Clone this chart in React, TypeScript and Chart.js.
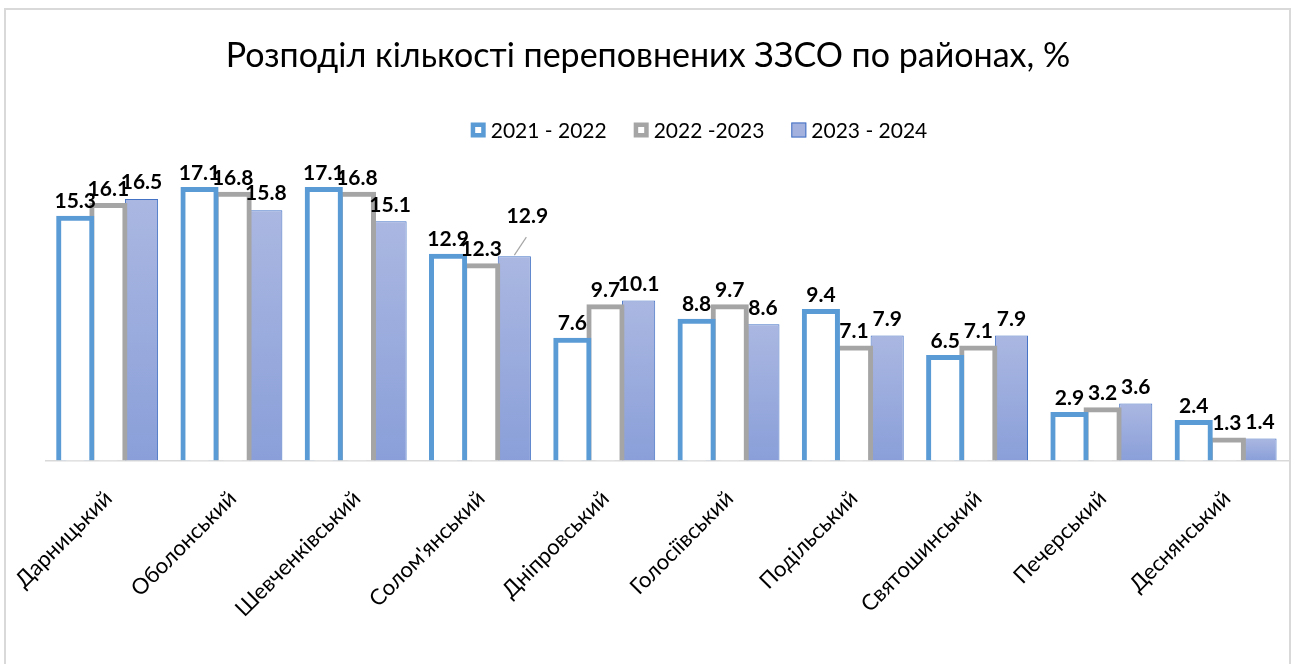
import React, { useEffect, useRef } from "react";
import { Chart, registerables } from "chart.js";
Chart.register(...registerables);

const districts = [
  "Дарницький",
  "Оболонський",
  "Шевченківський",
  "Солом'янський",
  "Дніпровський",
  "Голосіївський",
  "Подільський",
  "Святошинський",
  "Печерський",
  "Деснянський",
];
const seriesNames = ["2021 - 2022", "2022 -2023", "2023 - 2024"];
const values2122 = [15.3, 17.1, 17.1, 12.9, 7.6, 8.8, 9.4, 6.5, 2.9, 2.4];
const values2223 = [16.1, 16.8, 16.8, 12.3, 9.7, 9.7, 7.1, 7.1, 3.2, 1.3];
const values2324 = [16.5, 15.8, 15.1, 12.9, 10.1, 8.6, 7.9, 7.9, 3.6, 1.4];
const titleText = "Розподіл кількості переповнених ЗЗСО по районах, %";

const FONT = "Lato";
const BLUE = "#5B9BD5";
const GRAY = "#A5A5A5";
const FILL_BORDER = "#4472C4";
const GRAD_TOP = "#AAB7E1";
const GRAD_BOTTOM = "#8A9FD9";
const LEGEND_FILL = "#A3B1DF";

// label offset for one label that Excel moved away (dataset-index, data-index)
const labelOffsets: Record<string, [number, number]> = { "2-3": [13, -23] };

const frame = {
  id: "frame",
  beforeDraw(chart: any) {
    const { ctx, width, height } = chart;
    ctx.save();
    ctx.fillStyle = "#fff";
    ctx.fillRect(0, 0, width, height);
    ctx.strokeStyle = "#D9D9D9";
    ctx.lineWidth = 2;
    ctx.strokeRect(5, 9, 1285, height + 20);
    ctx.restore();
  },
};

const titleAndLegend = {
  id: "titleAndLegend",
  afterDraw(chart: any) {
    const ctx = chart.ctx;
    ctx.save();
    // title
    ctx.fillStyle = "#000";
    ctx.font = `34px ${FONT}`;
    ctx.textAlign = "center";
    ctx.textBaseline = "middle";
    ctx.fillText(titleText, 648, 56);
    // legend
    ctx.font = `21px ${FONT}`;
    ctx.textAlign = "left";
    const box = 15;
    const gapText = 5;
    const gapItem = 27;
    const widths = seriesNames.map((s) => ctx.measureText(s).width);
    const total =
      widths.reduce((a, b) => a + b, 0) + seriesNames.length * (box + gapText) + gapItem * (seriesNames.length - 1);
    let x = 699 - total / 2;
    const cy = 130;
    seriesNames.forEach((name, i) => {
      const y0 = cy - box / 2;
      if (i < 2) {
        ctx.fillStyle = "#fff";
        ctx.fillRect(x, y0, box, box);
        ctx.strokeStyle = i === 0 ? BLUE : GRAY;
        ctx.lineWidth = 4.5;
        ctx.strokeRect(x + 2.25, y0 + 2.25, box - 4.5, box - 4.5);
      } else {
        ctx.fillStyle = LEGEND_FILL;
        ctx.fillRect(x, y0, box, box);
        ctx.strokeStyle = FILL_BORDER;
        ctx.lineWidth = 1;
        ctx.strokeRect(x + 0.5, y0 + 0.5, box - 1, box - 1);
      }
      ctx.fillStyle = "#000";
      ctx.fillText(name, x + box + gapText, cy + 1);
      x += box + gapText + widths[i] + gapItem;
    });
    ctx.restore();
  },
};

const dataLabels = {
  id: "dataLabels",
  afterDatasetsDraw(chart: any) {
    const ctx = chart.ctx;
    ctx.save();
    ctx.font = `bold 21px ${FONT}`;
    ctx.fillStyle = "#000";
    ctx.textAlign = "center";
    ctx.textBaseline = "bottom";
    chart.data.datasets.forEach((ds: any, di: number) => {
      const meta = chart.getDatasetMeta(di);
      meta.data.forEach((el: any, i: number) => {
        const v = ds.data[i];
        const off = labelOffsets[`${di}-${i}`];
        let x = el.x;
        let y = el.y - 6;
        if (off) {
          ctx.strokeStyle = "#A6A6A6";
          ctx.lineWidth = 1.2;
          ctx.beginPath();
          ctx.moveTo(el.x, el.y - 1);
          ctx.lineTo(el.x + off[0] - 1, el.y - 19);
          ctx.stroke();
          x = el.x + off[0];
          y = el.y + off[1] - 6;
        }
        ctx.fillText(v.toFixed(1), x, y);
      });
    });
    ctx.restore();
  },
};

function gradientFill(c: any) {
  const chart = c.chart;
  const ys = chart.scales && chart.scales.y;
  if (!ys || c.raw == null) return "#9AABDD";
  const top = ys.getPixelForValue(c.raw);
  const bottom = ys.getPixelForValue(0);
  if (!isFinite(top) || !isFinite(bottom) || top === bottom) return "#9AABDD";
  const g = chart.ctx.createLinearGradient(0, top, 0, bottom);
  g.addColorStop(0, GRAD_TOP);
  g.addColorStop(1, GRAD_BOTTOM);
  return g;
}

export default function App() {
  const ref = useRef<HTMLCanvasElement>(null);
  useEffect(() => {
    if (!ref.current) return;
    const chart = new Chart(ref.current, {
      type: "bar",
      data: {
        labels: districts,
        datasets: [
          {
            label: seriesNames[0],
            data: values2122,
            backgroundColor: "#fff",
            borderColor: BLUE,
            borderWidth: 5,
            inflateAmount: 2.5,
            categoryPercentage: 0.8,
            barPercentage: 1,
          },
          {
            label: seriesNames[1],
            data: values2223,
            backgroundColor: "#fff",
            borderColor: GRAY,
            borderWidth: 5,
            inflateAmount: 2.5,
            categoryPercentage: 0.8,
            barPercentage: 1,
          },
          {
            label: seriesNames[2],
            data: values2324,
            backgroundColor: gradientFill,
            borderColor: FILL_BORDER,
            borderWidth: 1,
            inflateAmount: 0,
            categoryPercentage: 0.8,
            barPercentage: 1,
          },
        ],
      },
      options: {
        animation: false,
        responsive: true,
        maintainAspectRatio: false,
        layout: { padding: { left: 45, right: 7, top: 150, bottom: 25 } },
        plugins: {
          title: { display: false },
          legend: { display: false },
          tooltip: { enabled: false },
        },
        scales: {
          x: {
            grid: { display: false },
            border: { display: true, color: "#D9D9D9", width: 1.5 },
            ticks: {
              color: "#000",
              font: { family: FONT, size: 22 },
              maxRotation: 45,
              minRotation: 45,
              padding: 17,
            },
          },
          y: { display: false, min: 0, max: 19.6 },
        },
      },
      plugins: [frame, dataLabels, titleAndLegend],
    });
    return () => chart.destroy();
  }, []);
  return (
    <div style={{ position: "absolute", left: 0, top: 0, width: 1296, height: 664 }}>
      <canvas ref={ref} />
    </div>
  );
}
